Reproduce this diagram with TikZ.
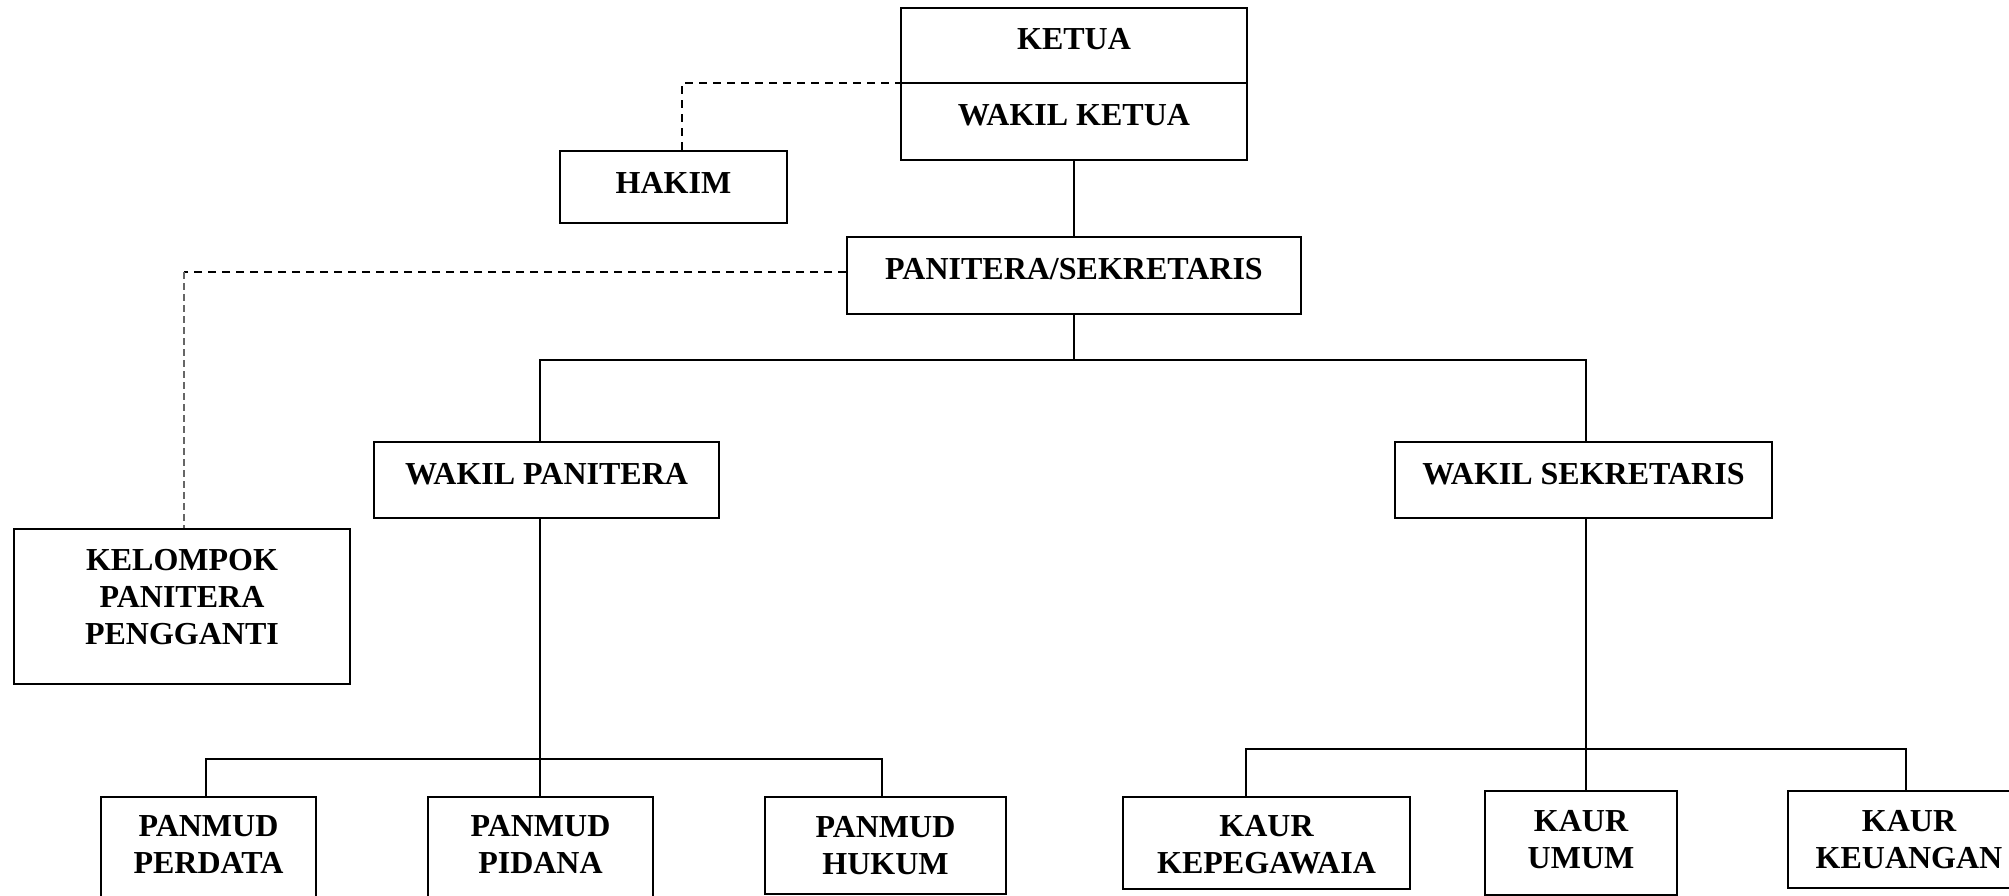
\documentclass[tikz,border=0pt]{standalone}
\usepackage{fontspec}
\setmainfont{Liberation Serif}
\usetikzlibrary{calc}
\newcommand{\lowstrut}[1]{\rule[-#1]{0pt}{0pt}}
\newcommand{\highstrut}[1]{\rule{0pt}{#1}}
\begin{document}
\begin{tikzpicture}[x=1pt,y=-1pt,
  box/.style={draw, line width=2pt, inner sep=0pt, align=center,
    font=\fontsize{32}{37}\selectfont\bfseries},
  link/.style={line width=2pt},
  dashh/.style={line width=2pt, dash pattern=on 8pt off 6pt},
  dashv/.style={line width=1.2pt, gray!80!black, dash pattern=on 7pt off 4pt}]
\useasboundingbox (0,0) rectangle (2009,896);
\fill[white] (0,0) rectangle (2009,896);
% boxes
\node[box, minimum width=346, minimum height=75] (ketua) at (1074,45.5) {KETUA\lowstrut{14pt}};
\node[box, minimum width=346, minimum height=77] (wketua) at (1074,121.5) {WAKIL KETUA\lowstrut{14pt}};
\node[box, minimum width=227, minimum height=72] (hakim) at (673.5,187) {HAKIM\lowstrut{9pt}};
\node[box, minimum width=454, minimum height=77] (panitera) at (1074,275.5) {PANITERA/SEKRETARIS\lowstrut{13pt}};
\node[box, minimum width=345, minimum height=76] (wpan) at (546.5,480) {WAKIL PANITERA\lowstrut{12pt}};
\node[box, minimum width=377, minimum height=76] (wsek) at (1583.5,480) {WAKIL SEKRETARIS\lowstrut{12pt}};
\node[box, minimum width=336, minimum height=155] (kelompok) at (182,606.5) {KELOMPOK\\PANITERA\\PENGGANTI\lowstrut{20pt}};
\node[box, minimum width=215, minimum height=108] (perdata) at (208.5,851) {PANMUD\\PERDATA\lowstrut{13pt}};
\node[box, minimum width=225, minimum height=108] (pidana) at (540.5,851) {PANMUD\\PIDANA\lowstrut{13pt}};
\node[box, minimum width=241, minimum height=97] (hukum) at (885.5,845.5) {PANMUD\\HUKUM};
\node[box, minimum width=287, minimum height=92] (kepeg) at (1266.5,843) {\highstrut{25pt}KAUR\\KEPEGAWAIA};
\node[box, minimum width=192, minimum height=104] (umum) at (1581,843) {KAUR\\UMUM\lowstrut{8pt}};
\node[box, minimum width=242, minimum height=97] (keuangan) at (1909,839.5) {KAUR\\KEUANGAN};
% junctions
\coordinate (j1) at (1074,360);
\coordinate (jp) at (540,759);
\coordinate (js) at (1586,749);
\coordinate (hk) at (1025,83);
\coordinate (kc) at (184,272);
% solid connectors
\draw[link] (wketua.south) -- (panitera.north);
\draw[link] (panitera.south) -- (j1);
\draw[link] ([xshift=-6.5pt]wpan.north) |- (j1) -| ([xshift=2.5pt]wsek.north);
\draw[link] ([xshift=-6.5pt]wpan.south) -- ([xshift=-0.5pt]pidana.north);
\draw[link] ([xshift=-2.5pt]perdata.north) |- (jp) -| ([xshift=-3.5pt]hukum.north);
\draw[link] ([xshift=2.5pt]wsek.south) -- ([xshift=5pt]umum.north);
\draw[link] ([xshift=-20.5pt]kepeg.north) |- (js) -| ([xshift=-3pt]keuangan.north);
% dashed connectors
\draw[dashh] ([xshift=8.5pt]hakim.north) |- (hk);
\draw[dashh] ([yshift=3.5pt]panitera.west) -- (kc);
\draw[dashv] (kc) -- (kelompok.north -| kc);
\end{tikzpicture}
\end{document}
